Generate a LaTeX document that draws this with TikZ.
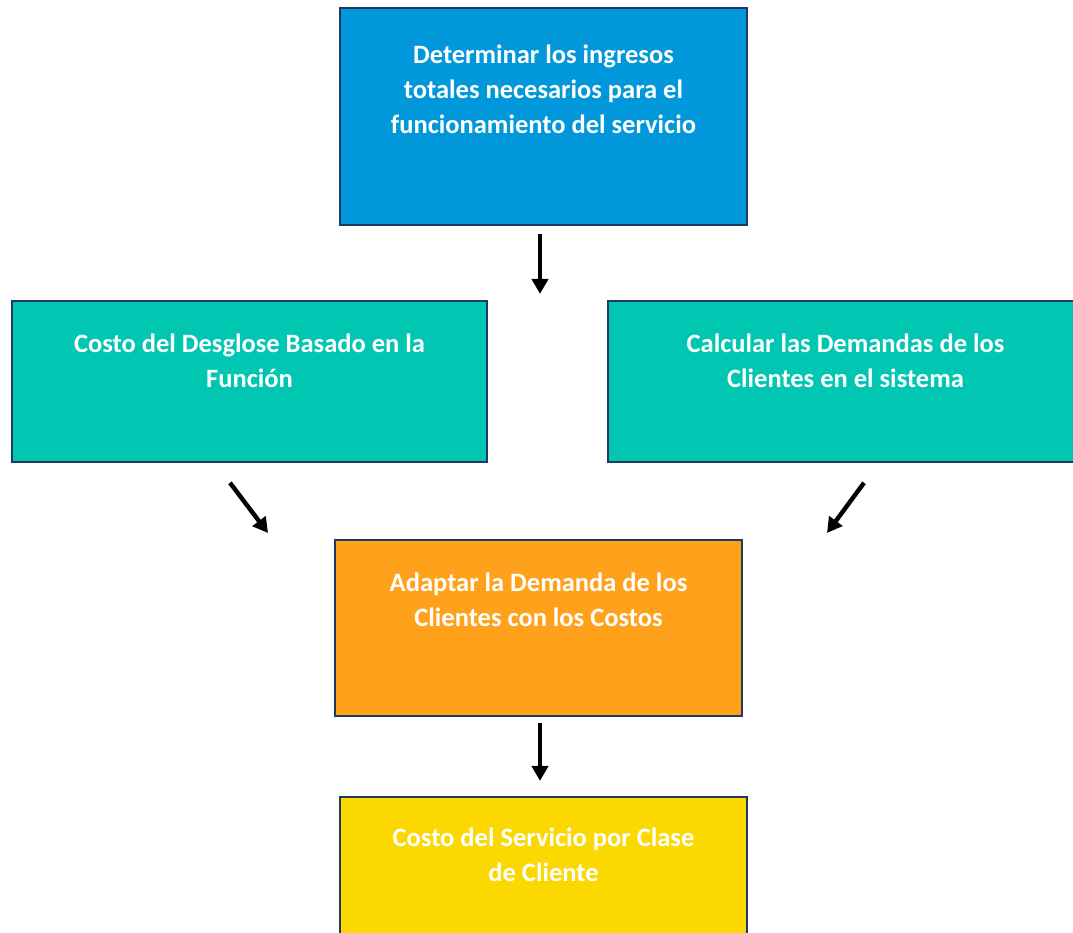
\documentclass[tikz,border=0pt]{standalone}
\usepackage{fontspec}
\setmainfont{Carlito}
\usetikzlibrary{positioning,arrows.meta}
\definecolor{azul}{RGB}{0,152,218}
\definecolor{verde}{RGB}{0,198,178}
\definecolor{naranja}{RGB}{255,161,26}
\definecolor{amarillo}{RGB}{250,216,0}
\definecolor{borde}{RGB}{31,56,100}
\tikzstyle{caja} = [rectangle, draw=borde, line width=1.6pt, minimum width=407pt, inner sep=0pt]
\tikzstyle{ancha} = [caja, minimum width=475pt, minimum height=161pt, fill=verde]
\tikzstyle{texto} = [anchor=north, align=center, text=white, inner sep=0pt, font=\fontsize{26.5}{35}\selectfont\bfseries]
\tikzstyle{arrow} = [line width=4.4pt,-{Triangle[length=15pt,width=16pt]}]

\begin{document}
\begin{tikzpicture}[x=1pt,y=1pt]
\useasboundingbox (0,0) rectangle (1073,933);
\clip (0,0) rectangle (1073,933);
\node (ingresos) [caja,fill=azul,minimum height=217pt] at (543.5,816.5) {};
\node (desglose) [ancha] at (249.5,551.5) {};
\node (demandas) [ancha] at (845.5,551.5) {};
\node (adaptar) [caja,fill=naranja,minimum height=176pt] at (538.5,305) {};
\node (servicio) [caja,fill=amarillo,minimum height=200pt] at (543.5,36) {};
% textos
\node (t1) [texto,below=38pt of ingresos.north] {Determinar los ingresos\\totales necesarios para el\\funcionamiento del servicio};
\node (t2) [texto,below=34pt of desglose.north] {Costo del Desglose Basado en la\\Función};
\node (t3) [texto,below=34pt of demandas.north] {Calcular las Demandas de los\\Clientes en el sistema};
\node (t4) [texto,below=34pt of adaptar.north] {Adaptar la Demanda de los\\Clientes con los Costos};
\node (t5) [texto,below=32pt of servicio.north] {Costo del Servicio por Clase\\de Cliente};
% flechas
\coordinate (e1) at (540,639);
\coordinate (e2) at (268,400);
\coordinate (e3) at (827,400);
\coordinate (e4) at (540,152);
\draw [arrow] ([shift={(-3.5,-8)}]ingresos.south) -- (e1);
\draw [arrow] ([shift={(-19.5,-20)}]desglose.south) -- (e2);
\draw [arrow] ([shift={(18.5,-20)}]demandas.south) -- (e3);
\draw [arrow] ([shift={(1.5,-6)}]adaptar.south) -- (e4);
\end{tikzpicture}
\end{document}
